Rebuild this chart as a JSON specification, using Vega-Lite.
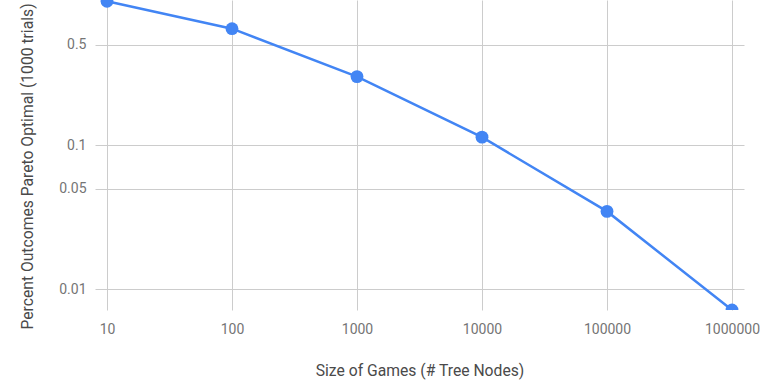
{
  "$schema": "https://vega.github.io/schema/vega-lite/v6.json",
  "autosize": {"type": "none"},
  "width": 649,
  "height": 310,
  "padding": {"left": 95, "top": 0, "right": 33, "bottom": 73},
  "background": "white",
  "config": {
    "view": {"stroke": null},
    "font": "Roboto",
    "axis": {
      "labelFont": "Roboto",
      "labelFontSize": 14,
      "labelColor": "#757575",
      "titleFont": "Roboto",
      "titleFontSize": 15.7,
      "titleFontWeight": "normal",
      "titleColor": "#4a4a4a",
      "gridColor": "#cccccc",
      "gridWidth": 1,
      "domain": false,
      "ticks": false
    }
  },
  "data": {
    "values": [
      {"nodes": 10, "pareto": 1.0},
      {"nodes": 100, "pareto": 0.645},
      {"nodes": 1000, "pareto": 0.30},
      {"nodes": 10000, "pareto": 0.114},
      {"nodes": 100000, "pareto": 0.0348},
      {"nodes": 1000000, "pareto": 0.0072}
    ]
  },
  "encoding": {
    "x": {
      "field": "nodes",
      "type": "quantitative",
      "scale": {"type": "log", "domain": [10, 1000000], "nice": false, "padding": 12},
      "axis": {
        "title": "Size of Games (# Tree Nodes)",
        "values": [10, 100, 1000, 10000, 100000, 1000000],
        "format": "d",
        "labelPadding": 12,
        "titlePadding": 27,
        "labelFlush": false
      }
    },
    "y": {
      "field": "pareto",
      "type": "quantitative",
      "scale": {"type": "log", "domain": [0.0072, 1.02], "nice": false},
      "axis": {
        "title": "Percent Outcomes Pareto Optimal (1000 trials)",
        "values": [0.01, 0.05, 0.1, 0.5],
        "format": "~g",
        "labelPadding": 9,
        "titlePadding": 23,
        "titleY": 166
      }
    }
  },
  "layer": [
    {"mark": {"type": "line", "color": "#4285F4", "strokeWidth": 2.5, "clip": true}},
    {"mark": {"type": "point", "shape": "circle", "filled": true, "opacity": 1, "color": "#4285F4", "size": 165, "clip": true}}
  ]
}
